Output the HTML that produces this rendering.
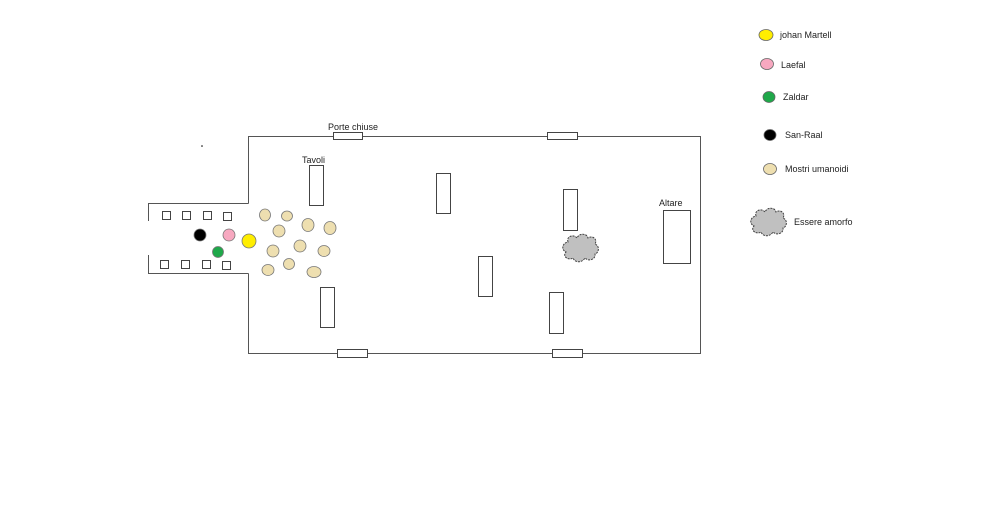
<!DOCTYPE html>
<html><head><meta charset="utf-8"><style>
html,body{margin:0;padding:0;background:#fff;}
svg{display:block;font-family:"Liberation Sans",sans-serif;}
</style></head><body>
<svg width="1000" height="517" viewBox="0 0 1000 517" xmlns="http://www.w3.org/2000/svg">
<defs>
<g id="cloud">
<path d="M-12,-6 C-14,-12 -6,-14 -3,-10 C-1,-15 7,-15 8,-10 C12,-13 18,-9 15,-4 C20,-2 19,5 15,6 C16,11 9,14 5,10 C2,15 -5,15 -7,10 C-12,13 -18,8 -14,4 C-19,2 -18,-5 -12,-6 Z" fill="#c0c0c0" stroke="#404040" stroke-width="1" stroke-dasharray="2,1"/>
</g>
</defs>
<g fill="none" stroke="#555" stroke-width="1">
<polyline points="248.5,203.5 248.5,136.5 700.5,136.5 700.5,353.5 248.5,353.5 248.5,273.5"/>
<polyline points="248.5,203.5 148.5,203.5 148.5,221"/>
<polyline points="148.5,255 148.5,273.5 248.5,273.5"/>
</g>
<g fill="#fff" stroke="#444" stroke-width="1">
<rect x="333.5" y="132.5" width="29" height="7"/>
<rect x="547.5" y="132.5" width="30" height="7"/>
<rect x="337.5" y="349.5" width="30" height="8"/>
<rect x="552.5" y="349.5" width="30" height="8"/>
<rect x="309.5" y="165.5" width="14" height="40"/>
<rect x="436.5" y="173.5" width="14" height="40"/>
<rect x="563.5" y="189.5" width="14" height="41"/>
<rect x="478.5" y="256.5" width="14" height="40"/>
<rect x="320.5" y="287.5" width="14" height="40"/>
<rect x="549.5" y="292.5" width="14" height="41"/>
<rect x="663.5" y="210.5" width="27" height="53"/>
<rect x="162.5" y="211.5" width="8" height="8"/>
<rect x="182.5" y="211.5" width="8" height="8"/>
<rect x="203.5" y="211.5" width="8" height="8"/>
<rect x="223.5" y="212.5" width="8" height="8"/>
<rect x="160.5" y="260.5" width="8" height="8"/>
<rect x="181.5" y="260.5" width="8" height="8"/>
<rect x="202.5" y="260.5" width="8" height="8"/>
<rect x="222.5" y="261.5" width="8" height="8"/>
</g>
<g fill="#eedfb0" stroke="#777" stroke-width="0.8">
<ellipse cx="265" cy="215" rx="5.5" ry="6"/>
<ellipse cx="287" cy="216" rx="5.5" ry="5"/>
<ellipse cx="279" cy="231" rx="6" ry="6"/>
<ellipse cx="308" cy="225" rx="6" ry="6.5"/>
<ellipse cx="330" cy="228" rx="6" ry="6.5"/>
<ellipse cx="273" cy="251" rx="6" ry="6"/>
<ellipse cx="300" cy="246" rx="6" ry="6"/>
<ellipse cx="324" cy="251" rx="6" ry="5.5"/>
<ellipse cx="268" cy="270" rx="6" ry="5.5"/>
<ellipse cx="289" cy="264" rx="5.5" ry="5.5"/>
<ellipse cx="314" cy="272" rx="7" ry="5.5"/>
</g>
<g stroke="#777" stroke-width="0.8">
<circle cx="200" cy="235" r="6" fill="#000"/>
<circle cx="229" cy="235" r="6" fill="#f7a8c0"/>
<circle cx="218" cy="252" r="5.5" fill="#1fa84a"/>
<circle cx="249" cy="241" r="7" fill="#ffee00"/>
</g>
<use href="#cloud" transform="translate(580,248)"/>
<circle cx="202" cy="146" r="0.8" fill="#000"/>
<g font-size="9" fill="#222">
<text x="328" y="130">Porte chiuse</text>
<text x="302" y="163">Tavoli</text>
<text x="659" y="206">Altare</text>
</g>
<g stroke="#666" stroke-width="0.8">
<ellipse cx="766" cy="35" rx="7" ry="5.5" fill="#ffee00"/>
<ellipse cx="767" cy="64" rx="6.5" ry="5.5" fill="#f7a8c0"/>
<ellipse cx="769" cy="97" rx="6" ry="5.5" fill="#1fa84a"/>
<ellipse cx="770" cy="135" rx="6" ry="5.5" fill="#000"/>
<ellipse cx="770" cy="169" rx="6.5" ry="5.5" fill="#eedfb0"/>
</g>
<use href="#cloud" transform="translate(768,222)"/>
<g font-size="9" fill="#222">
<text x="780" y="38">johan Martell</text>
<text x="781" y="68">Laefal</text>
<text x="783" y="100">Zaldar</text>
<text x="785" y="138">San-Raal</text>
<text x="785" y="172">Mostri umanoidi</text>
<text x="794" y="225">Essere amorfo</text>
</g>
</svg>
</body></html>
